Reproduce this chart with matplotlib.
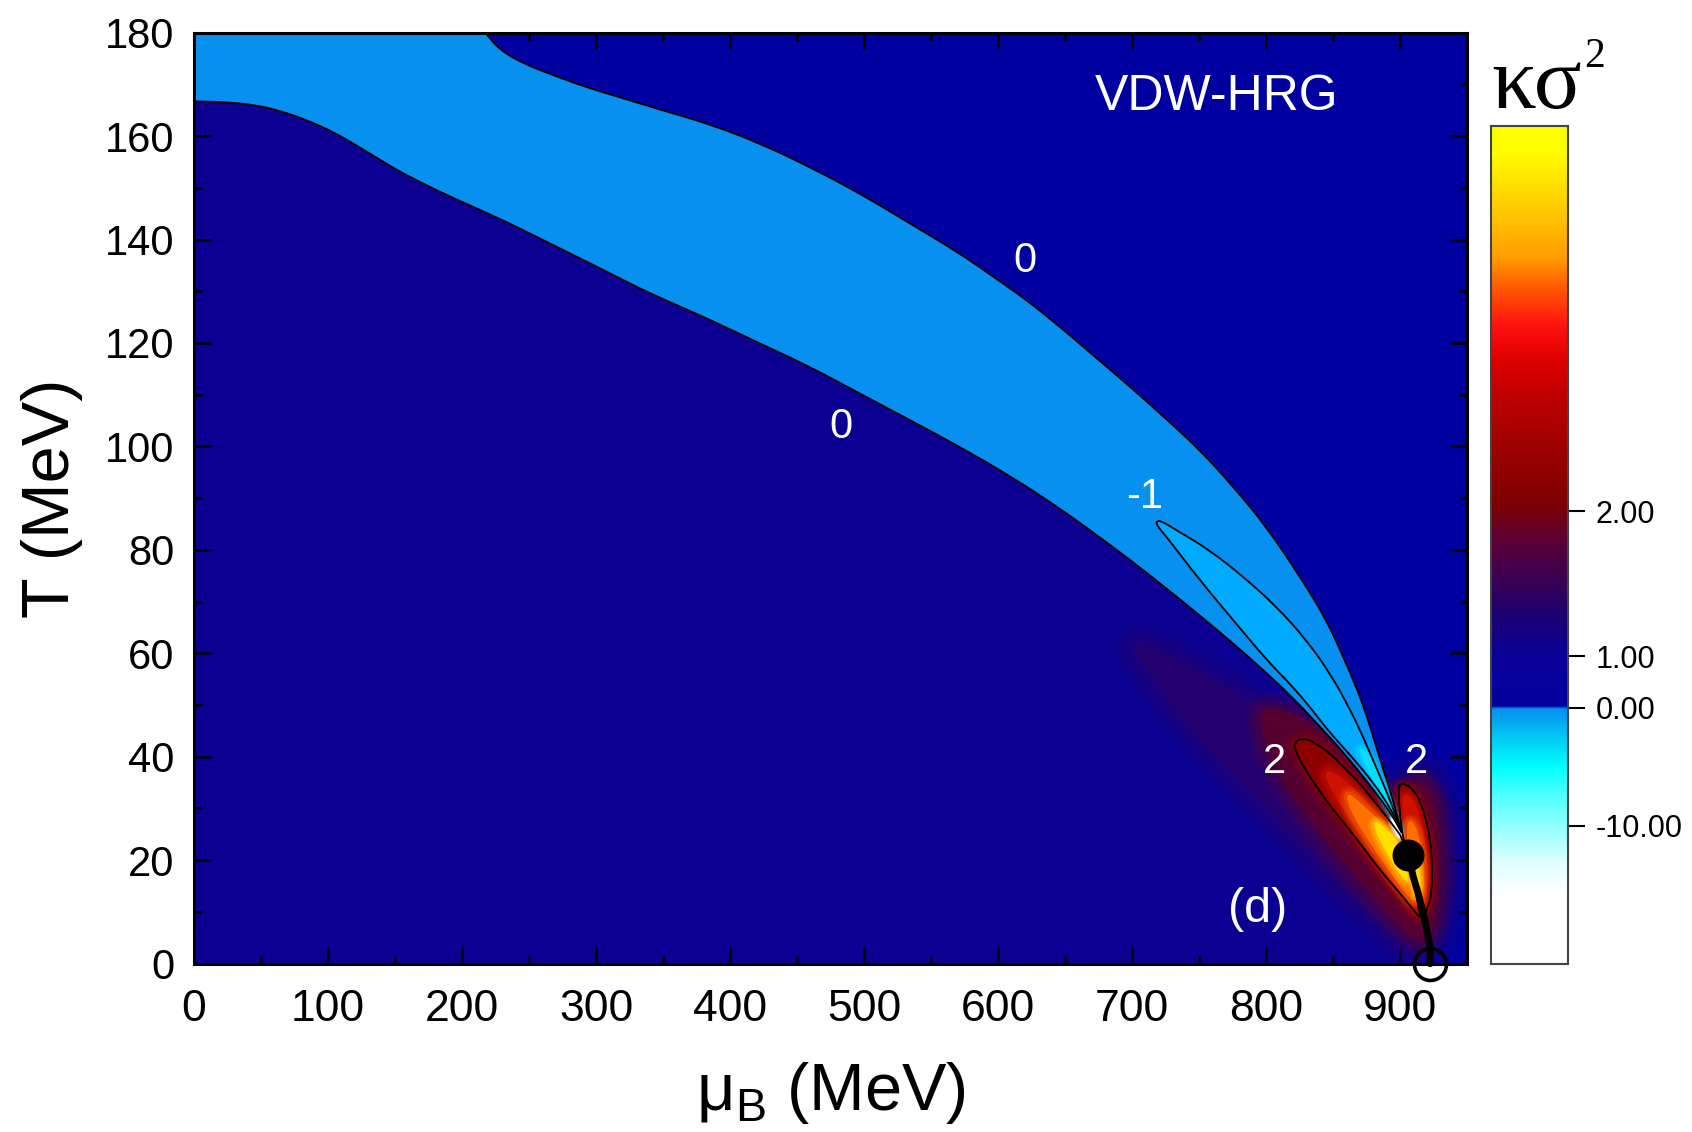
import numpy as np
import matplotlib.pyplot as plt
from matplotlib.colors import LinearSegmentedColormap
from matplotlib.patches import PathPatch
from matplotlib.path import Path
from matplotlib.ticker import MultipleLocator

plt.rcParams['font.family'] = ['Liberation Sans', 'DejaVu Sans']
plt.rcParams['mathtext.fontset'] = 'custom'
plt.rcParams['mathtext.rm'] = 'Liberation Sans'

# contour kappa*sigma^2 = 0, upper branch (mu_B, T) in MeV
upper_zero_mu = [217.1, 228.3, 245.7, 270.5, 295.4, 320.3, 345.2, 384.9, 422.2, 459.6,
                 496.9, 534.2, 571.5, 596.4, 621.3, 646.2, 671.0, 700.9, 725.8, 750.6,
                 775.5, 800.4, 825.3, 845.2, 858.0, 868.0, 875.0, 882.4, 888.0, 892.4,
                 898.6, 901.2]
upper_zero_T = [180.0, 176.6, 174.0, 171.5, 169.2, 167.3, 165.3, 162.3, 158.6, 154.0,
                148.9, 143.1, 137.3, 132.8, 128.3, 123.1, 117.6, 111.0, 105.2, 99.3,
                92.2, 84.4, 74.8, 66.4, 59.0, 53.0, 48.0, 41.8, 37.0, 33.6,
                27.8, 25.3]

# contour kappa*sigma^2 = 0, lower branch
lower_zero_mu = [0.0, 21.8, 46.6, 66.5, 84.0, 103.9, 121.3, 141.2, 158.6, 183.5,
                 208.3, 233.2, 258.1, 283.0, 307.9, 332.8, 357.6, 384.9, 422.2, 459.6,
                 496.9, 534.2, 571.5, 608.9, 646.2, 676.0, 700.9, 725.8, 750.6, 775.5,
                 800.4, 820.3, 837.7, 850.2, 862.0, 875.0, 889.9, 897.0, 901.2]
lower_zero_T = [166.7, 166.6, 166.0, 164.7, 163.1, 160.8, 158.2, 155.0, 152.4, 149.2,
                146.3, 143.4, 140.2, 137.0, 133.8, 130.5, 127.6, 124.5, 119.9, 115.4,
                110.2, 105.1, 99.9, 94.3, 88.0, 82.4, 77.6, 72.5, 67.3, 61.9,
                56.2, 51.3, 46.5, 43.0, 39.5, 35.3, 30.3, 27.3, 25.3]

# contour kappa*sigma^2 = -1 (closed)
minus_one_mu = [717.5, 720.0, 725.8, 750.6, 775.5, 800.4, 815.3, 830.0, 848.0, 864.0,
                880.0, 893.0, 898.0, 901.2, 900.0, 895.5, 889.5, 882.0, 873.0, 862.0,
                848.0, 830.3, 807.9, 783.0, 758.1, 733.2, 721.0]
minus_one_T = [85.4, 84.2, 82.5, 74.1, 66.4, 58.7, 54.8, 50.5, 44.5, 40.0,
               35.0, 30.0, 27.0, 25.3, 26.5, 29.5, 33.5, 38.0, 43.5, 49.5,
               56.0, 62.5, 69.0, 74.8, 79.9, 83.8, 85.7]

# contour kappa*sigma^2 = 2, left lobe
left_two_mu = [821.5, 827.8, 835.2, 847.7, 860.1, 870.1, 880.0, 890.0, 897.4, 901.2,
               904.9, 909.9, 913.6, 915.8, 909.9, 899.9, 885.0, 870.1, 855.1, 840.2,
               827.8, 821.5]
left_two_T = [42.9, 43.6, 42.9, 40.7, 37.4, 34.8, 31.6, 28.4, 25.8, 24.5,
              21.3, 16.2, 11.0, 8.6, 10.4, 13.6, 18.1, 23.3, 28.1, 33.2,
              38.1, 41.3]

# contour kappa*sigma^2 = 2, right lobe
right_two_mu = [899.9, 905.0, 910.0, 914.8, 921.0, 924.2, 923.5, 921.0, 916.3, 913.5,
                909.8, 906.0, 902.3, 899.4, 899.0]
right_two_T = [34.8, 34.6, 33.5, 31.6, 26.5, 20.0, 13.6, 11.0, 8.6, 11.7,
               16.8, 21.0, 23.9, 29.7, 33.6]

# shading of the positive region (kappa*sigma^2 > 1)
glow_outer_mu = [700, 740, 780, 815, 845, 875, 898, 912, 930, 937, 934, 924, 905, 880, 850, 815, 775, 735, 706]
glow_outer_T = [63, 58, 52, 47, 42, 36, 33, 38, 35, 24, 10, 2, 3, 9, 16, 26, 36, 48, 58]
glow_mid_mu = [795, 822, 850, 875, 898, 912, 926, 931, 929, 920, 908, 890, 866, 838, 812, 797]
glow_mid_T = [50, 48.5, 44, 37.5, 31, 36, 33, 22, 10, 4, 5, 10, 17, 26, 35, 44]
red_left_mu = [843, 860, 876, 892, 903, 910, 914, 908, 896, 880, 862, 847]
red_left_T = [38, 35.5, 31, 26.5, 22, 15, 10, 11.5, 15.5, 21, 28, 34]
orange_left_mu = [860, 875, 890, 900, 907, 912, 904, 890, 873, 861]
orange_left_T = [33.5, 30, 26.5, 23.5, 18, 11.5, 13.5, 18.5, 25, 30.5]
yellow_left_mu = [880, 893, 902, 907, 903, 893, 882]
yellow_left_T = [28, 25.5, 22, 16, 16, 20, 25]
red_right_mu = [901, 909, 916, 921, 920, 916, 911, 906, 902]
red_right_T = [33, 32.5, 28, 20, 12, 10, 15, 22, 28]
orange_right_mu = [905, 912, 918, 917, 913, 909, 905]
orange_right_T = [28, 27, 20, 12, 12, 18, 23]
yellow_right_mu = [907, 913, 916, 913, 909]
yellow_right_T = [22, 21, 15, 12, 15]

# most negative values near the critical point
cyan_mu = [868, 876, 884, 892, 898, 901, 897, 892, 883, 872]
cyan_T = [42, 41, 37, 31.5, 27.5, 25.5, 26.8, 29.5, 34, 39.5]
white_mu = [894, 900, 902, 899, 896, 893]
white_T = [28.5, 26, 24.5, 24.2, 25.5, 27.5]

# critical point and nuclear liquid-gas transition line
crit_mu, crit_T = 906.0, 21.0
ground_mu, ground_T = 922.5, 0.0
transition_mu = [906.0, 909.8, 913.5, 918.5, 922.2, 922.5]
transition_T = [21.0, 16.8, 13.6, 8.4, 3.3, 0.0]

contour_labels = ['0', '0', '-1', '2', '2']
contour_label_mu = [620, 483, 709, 806, 912]
contour_label_T = [135.8, 103.7, 90.3, 39, 39]

cbar_tick_pos = [0.540, 0.367, 0.306, 0.165]
cbar_tick_labels = ['2.00', '1.00', '0.00', '-10.00']
cbar_stops = [(0.00, '#FFFFFF'), (0.08, '#FFFFFF'), (0.12, '#E0FFFF'), (0.165, '#90FFFF'),
              (0.20, '#50FFFF'), (0.235, '#00FFFF'), (0.27, '#00C8F5'), (0.304, '#0890F0'),
              (0.307, '#0000A0'), (0.367, '#0A0098'), (0.42, '#200070'), (0.465, '#400050'),
              (0.51, '#600030'), (0.55, '#800000'), (0.62, '#A00000'), (0.68, '#C00000'),
              (0.72, '#E00000'), (0.76, '#FF1010'), (0.81, '#FF6000'), (0.845, '#FFA000'),
              (0.91, '#FFD000'), (0.97, '#FFFF00'), (1.00, '#FFFF00')]


def smooth_open(mu, t):
    # quadratic bezier through the midpoints, the read points act as control points
    p = np.column_stack([mu, t]).astype(float)
    m = (p[:-1] + p[1:]) / 2
    verts = [p[0], m[0]]
    codes = [Path.LINETO, Path.LINETO]
    for i in range(1, len(p) - 1):
        verts += [p[i], m[i]]
        codes += [Path.CURVE3, Path.CURVE3]
    verts.append(p[-1])
    codes.append(Path.LINETO)
    return verts, codes


def open_path(mu, t):
    verts, codes = smooth_open(mu, t)
    codes[0] = Path.MOVETO
    return Path(verts, codes)


def closed_path(mu, t):
    p = np.column_stack([mu, t]).astype(float)
    m = (p + np.roll(p, -1, axis=0)) / 2
    verts = [m[-1]]
    codes = [Path.MOVETO]
    for i in range(len(p)):
        verts += [p[i], m[i]]
        codes += [Path.CURVE3, Path.CURVE3]
    verts.append(m[-1])
    codes.append(Path.CLOSEPOLY)
    return Path(verts, codes)


def soft_fill(ax, path, color, halo, zorder):
    for frac, alpha in [(1.0, 0.16), (0.7, 0.22), (0.4, 0.3)]:
        ax.add_patch(PathPatch(path, facecolor='none', edgecolor=color, lw=halo * frac,
                               alpha=alpha, joinstyle='round', zorder=zorder))
    ax.add_patch(PathPatch(path, facecolor=color, edgecolor='none', zorder=zorder))


def outline(ax, path, zorder, lw=1.3):
    ax.add_patch(PathPatch(path, facecolor='none', edgecolor='black', lw=lw, zorder=zorder))


fig = plt.figure(figsize=(16.92, 11.32), dpi=100)
ax = fig.add_axes([0.1147, 0.1487, 0.7524, 0.8225])
ax.set_facecolor('#0000A0')

# slightly purple region below the lower zero line
v, c = smooth_open(lower_zero_mu, lower_zero_T)
below = Path([(0, 0)] + v + [(922, 0), (0, 0)],
             [Path.MOVETO] + c + [Path.LINETO, Path.CLOSEPOLY])
ax.add_patch(PathPatch(below, facecolor='#0C0092', edgecolor='none', zorder=1))

# positive region
soft_fill(ax, closed_path(glow_outer_mu, glow_outer_T), '#24006E', 30, 2)
soft_fill(ax, closed_path(glow_mid_mu, glow_mid_T), '#560032', 22, 3)
left_two = closed_path(left_two_mu, left_two_T)
right_two = closed_path(right_two_mu, right_two_T)
soft_fill(ax, left_two, '#8C0000', 14, 4)
soft_fill(ax, right_two, '#8C0000', 10, 4)
soft_fill(ax, closed_path(red_left_mu, red_left_T), '#D01000', 14, 5)
soft_fill(ax, closed_path(red_right_mu, red_right_T), '#D01000', 10, 5)
soft_fill(ax, closed_path(orange_left_mu, orange_left_T), '#FF7000', 12, 6)
soft_fill(ax, closed_path(orange_right_mu, orange_right_T), '#FF7000', 9, 6)
soft_fill(ax, closed_path(yellow_left_mu, yellow_left_T), '#FFE000', 9, 7)
soft_fill(ax, closed_path(yellow_right_mu, yellow_right_T), '#FFE000', 7, 7)

# negative band between the two zero lines
vu, cu = smooth_open(upper_zero_mu, upper_zero_T)
vl, cl = smooth_open(lower_zero_mu[::-1], lower_zero_T[::-1])
band = Path([(0, 180)] + vu + vl + [(0, 180)],
            [Path.MOVETO] + cu + cl + [Path.CLOSEPOLY])
ax.add_patch(PathPatch(band, facecolor='#0890F0', edgecolor='none', zorder=10))
minus_one = closed_path(minus_one_mu, minus_one_T)
ax.add_patch(PathPatch(minus_one, facecolor='#00AAFF', edgecolor='none', zorder=11))
soft_fill(ax, closed_path(cyan_mu, cyan_T), '#00E0FF', 8, 12)
soft_fill(ax, closed_path(white_mu, white_T), '#FFFFFF', 5, 13)

# contour lines
outline(ax, open_path(upper_zero_mu, upper_zero_T), 20)
outline(ax, open_path(lower_zero_mu, lower_zero_T), 20)
outline(ax, minus_one, 20)
outline(ax, left_two, 20)
outline(ax, right_two, 20)

ax.plot(transition_mu, transition_T, color='black', lw=5, zorder=21, clip_on=False,
        solid_capstyle='round')
ax.plot([crit_mu], [crit_T], 'o', color='black', ms=22, zorder=22)
ax.plot([ground_mu], [ground_T], 'o', mfc='none', mec='black', mew=2.6, ms=23,
        zorder=22, clip_on=False)

for s, x, y in zip(contour_labels, contour_label_mu, contour_label_T):
    ax.text(x, y, s, color='white', fontsize=30, ha='center', va='center', zorder=25)
ax.text(763, 167.5, 'VDW-HRG', color='white', fontsize=36, ha='center', va='center', zorder=25)
ax.text(794, 10.5, '(d)', color='white', fontsize=35, ha='center', va='center', zorder=25)

ax.set_xlim(0, 950)
ax.set_ylim(0, 180)
ax.set_xticks(range(0, 901, 100))
ax.set_yticks(range(0, 181, 20))
ax.xaxis.set_minor_locator(MultipleLocator(50))
ax.yaxis.set_minor_locator(MultipleLocator(10))
ax.tick_params(which='both', direction='in', top=True, right=True, width=1.8)
ax.tick_params(which='major', length=12)
ax.tick_params(which='minor', length=6)
ax.tick_params(axis='x', pad=18, labelsize=32)
ax.tick_params(axis='y', pad=14, labelsize=30)
for sp in ax.spines.values():
    sp.set_linewidth(2.2)
    sp.set_zorder(30)
ax.set_xlabel('μ$_\\mathrm{B}$ (MeV)', fontsize=48, labelpad=22)
ax.set_ylabel('T (MeV)', fontsize=48, labelpad=16)

# colour bar
cmap = LinearSegmentedColormap.from_list('kurt', cbar_stops, N=512)
cax = fig.add_axes([0.8812, 0.1484, 0.0455, 0.7403])
cax.imshow(np.linspace(0, 1, 512).reshape(-1, 1), cmap=cmap, origin='lower',
           extent=[0, 1, 0, 1], aspect='auto')
cax.set_xticks([])
cax.yaxis.tick_right()
cax.set_yticks(cbar_tick_pos)
cax.set_yticklabels(cbar_tick_labels)
cax.tick_params(axis='y', direction='out', length=12, width=1.5, labelsize=22, pad=8)
for sp in cax.spines.values():
    sp.set_linewidth(1.5)
    sp.set_color('#444444')

fig.text(0.8815, 0.905, 'κσ', family=['Liberation Serif', 'DejaVu Serif'], fontsize=64,
         ha='left', va='baseline')
fig.text(0.936, 0.941, '2', family=['Liberation Serif', 'DejaVu Serif'], fontsize=30,
         ha='left', va='baseline')

fig.savefig('out.png', dpi=100)
